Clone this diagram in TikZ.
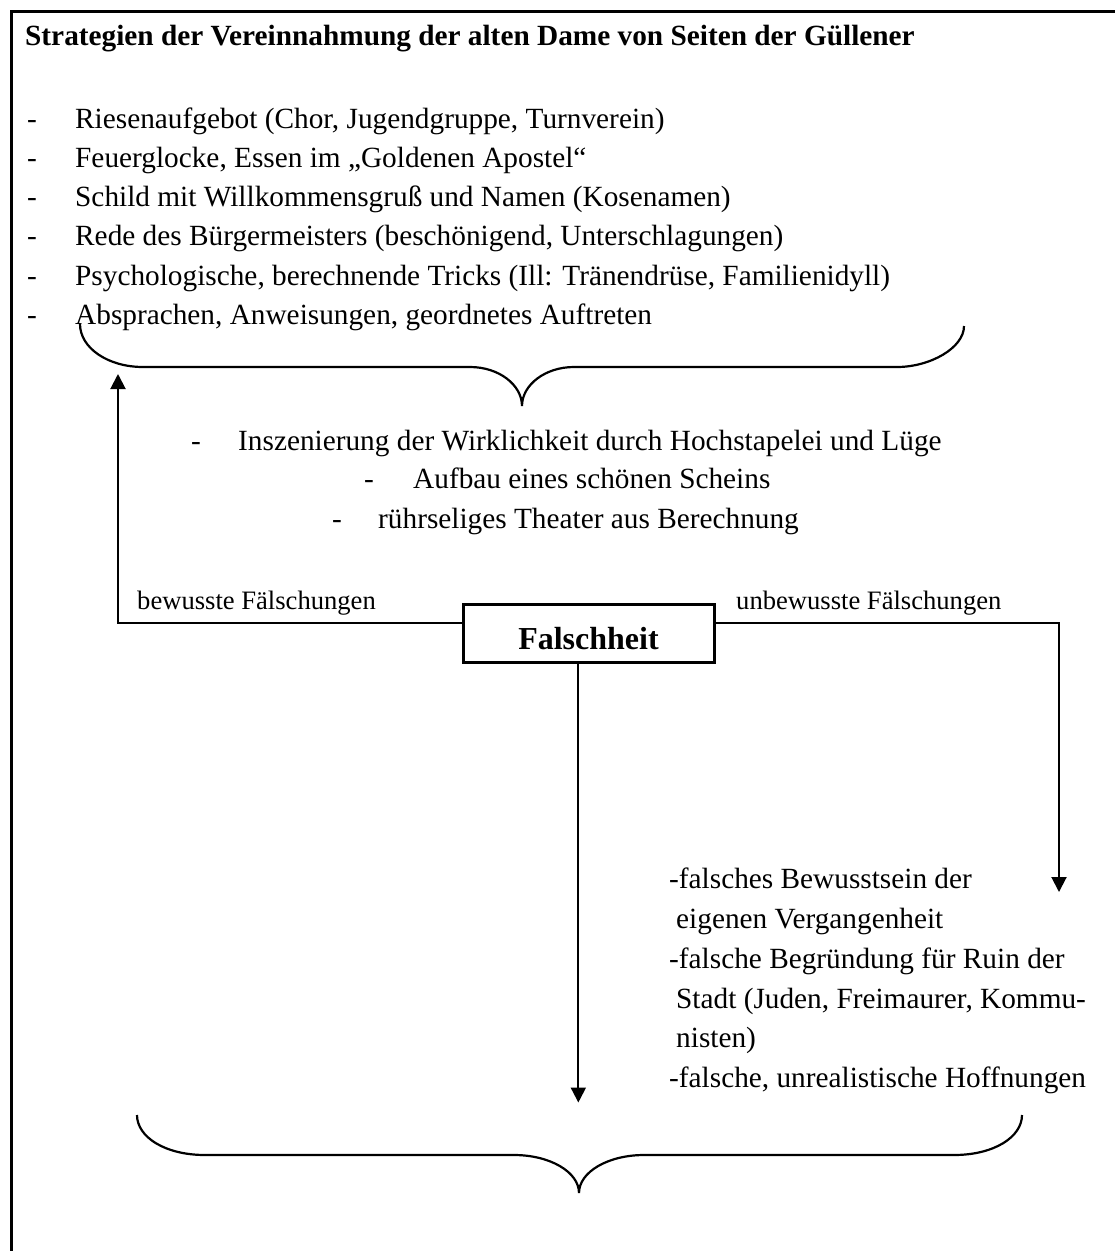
\documentclass[tikz,border=0pt]{standalone}
\usepackage{fontspec}
\setmainfont{Liberation Serif}
\usetikzlibrary{arrows.meta,calc}
\tikzset{
  body/.style={font=\fontsize{29.3}{35}\selectfont, inner sep=0pt, anchor=base west},
  titletext/.style={font=\bfseries\fontsize{29.3}{35}\selectfont, inner sep=0pt, anchor=base west},
  lbl/.style={font=\fontsize{26.6}{32}\selectfont, inner sep=0pt, anchor=base west},
  conn/.style={line width=2pt, -{Triangle[length=15pt,width=15pt]}},
  bracepath/.style={line width=2.2pt},
  framebox/.style={draw, line width=3pt, minimum width=251pt, minimum height=58pt,
    inner sep=0pt, text height=32pt, text depth=0pt,
    font=\bfseries\fontsize{32}{38}\selectfont}
}
\begin{document}
\begin{tikzpicture}[x=1pt,y=-1pt]
\useasboundingbox (0,0) rectangle (1115,1251);
\fill[white] (0,0) rectangle (1115,1251);
% outer frame (top and left edges visible)
\draw[line width=3pt] (1115,11) -- (11,11) -- (11,1251);

% title
\node[titletext] (title) at (25,45) {Strategien der Vereinnahmung der alten Dame von Seiten der Güllener};

% list
\node[body] (d1) at (27,128) {-};
\node[body] (l1) at (75,128) {Riesenaufgebot (Chor, Jugendgruppe, Turnverein)};
\node[body] (d2) at (27,167.3) {-};
\node[body] (l2) at (75,167.3) {Feuerglocke, Essen im „Goldenen Apostel“};
\node[body] (d3) at (27,206.6) {-};
\node[body] (l3) at (75,206.6) {Schild mit Willkommensgruß und Namen (Kosenamen)};
\node[body] (d4) at (27,245.9) {-};
\node[body] (l4) at (75,245.9) {Rede des Bürgermeisters (beschönigend, Unterschlagungen)};
\node[body] (d5) at (27,285.2) {-};
\node[body] (l5) at (75,285.2) {Psychologische, berechnende Tricks (Ill: Tränendrüse, Familienidyll)};
\node[body] (d6) at (27,324.5) {-};
\node[body] (l6) at (75,324.5) {Absprachen, Anweisungen, geordnetes Auftreten};

% upper brace
\draw[bracepath] (80,324) .. controls (80,348) and (108,367) .. (143,367)
  -- (470,367) .. controls (499,367) and (522,385) .. (522,406)
  .. controls (522,385) and (545,367) .. (574,367)
  -- (897,367) .. controls (930,367) and (964,348) .. (964,326);

% centre text
\node[body] (c1d) at (191,450) {-};
\node[body] (c1) at (238,450) {Inszenierung der Wirklichkeit durch Hochstapelei und Lüge};
\node[body] (c2d) at (364,488) {-};
\node[body] (c2) at (413,488) {Aufbau eines schönen Scheins};
\node[body] (c3d) at (332,528) {-};
\node[body] (c3) at (378,528) {rührseliges Theater aus Berechnung};

% central box
\node[framebox] (F) at (588.5,633) {Falschheit};

% labels
\node[lbl] (bl) at (137,609) {bewusste Fälschungen};
\node[lbl] (ul) at (736,609) {unbewusste Fälschungen};

% connectors
\coordinate (ltip) at (118,374);
\coordinate (rtip) at (1059,892);
\coordinate (mstart) at ($(F.south west)!0.46!(F.south east)$);
\path (mstart) ++(0,439) coordinate (mtip);
\draw[conn] ($(F.north west)!0.33!(F.south west)$) -| (ltip);
\draw[conn] ($(F.north east)!0.33!(F.south east)$) -| (rtip);
\draw[conn] (mstart) -- (mtip);

% right text block
\node[body] (r1) at (669,888) {-falsches Bewusstsein der};
\node[body] (r2) at (676,928) {eigenen Vergangenheit};
\node[body] (r3) at (669,968) {-falsche Begründung für Ruin der};
\node[body] (r4) at (676,1008) {Stadt (Juden, Freimaurer, Kommu-};
\node[body] (r5) at (676,1047) {nisten)};
\node[body] (r6) at (669,1087) {-falsche, unrealistische Hoffnungen};

% lower brace
\draw[bracepath] (137,1115) .. controls (137,1137) and (165,1155) .. (205,1155)
  -- (514,1155) .. controls (550,1155) and (579,1172) .. (579,1193)
  .. controls (579,1172) and (608,1155) .. (644,1155)
  -- (954,1155) .. controls (994,1155) and (1022,1137) .. (1022,1115);
\end{tikzpicture}
\end{document}
